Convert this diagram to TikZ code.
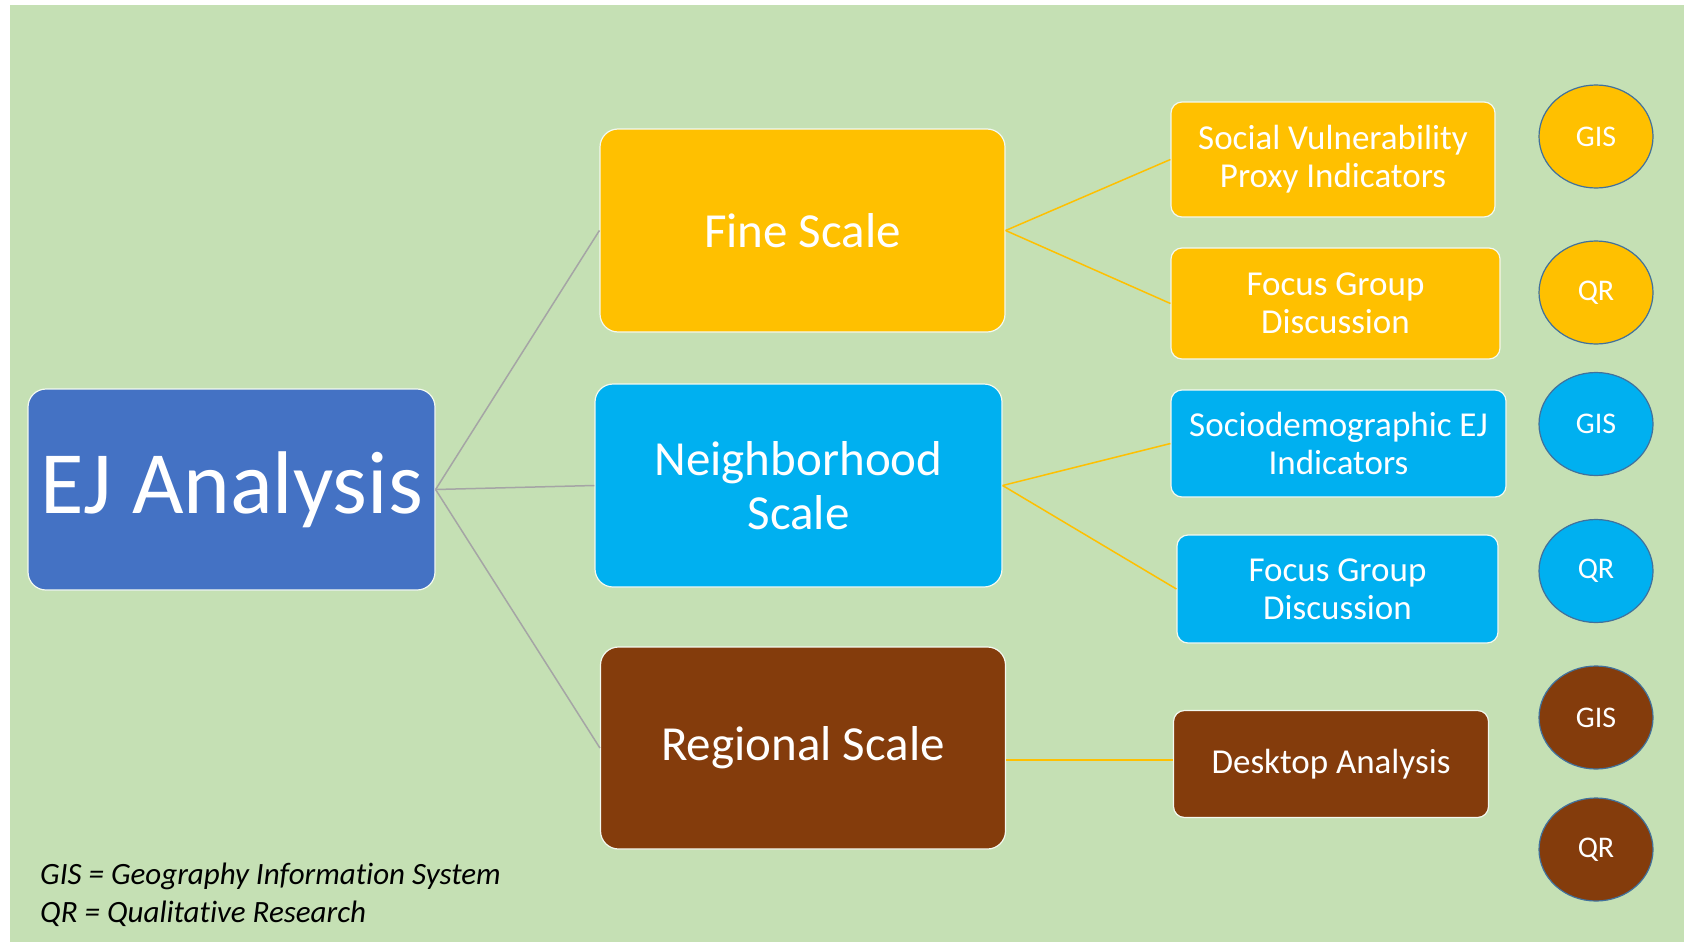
\documentclass[tikz,border=0pt]{standalone}
\usepackage{fontspec}
\setmainfont{Carlito}[Ligatures=NoCommon]
\usetikzlibrary{shapes.geometric,calc}
\definecolor{bg}{HTML}{C5E0B4}
\definecolor{ejblue}{HTML}{4472C4}
\definecolor{gold}{HTML}{FFC000}
\definecolor{sky}{HTML}{00B0F0}
\definecolor{brownc}{HTML}{843C0C}
\definecolor{circline}{HTML}{41719C}
\definecolor{linegray}{HTML}{A5A5A5}
\tikzset{
  box/.style={rectangle, rounded corners=18pt, draw=white!80!bg, line width=1.2pt,
    text=white, align=center, inner sep=0pt},
  bigbox/.style={box, font=\fontsize{49}{54}\selectfont},
  subbox/.style={box, rounded corners=11pt, font=\fontsize{35}{38}\selectfont},
  tag/.style={ellipse, draw=circline, line width=1.2pt, text=white,
    minimum width=114pt, minimum height=103pt, inner sep=0pt,
    font=\fontsize{30}{34}\selectfont},
  grayline/.style={draw=linegray, line width=1.5pt},
  goldline/.style={draw=gold, line width=1.5pt},
}
\begin{document}
\begin{tikzpicture}[x=1pt,y=-1pt]
\useasboundingbox (0,0) rectangle (1688,942);
\fill[white] (0,0) rectangle (1688,942);
\fill[bg] (10,5) rectangle (1684,942);

\node[box, fill=ejblue, minimum width=407pt, minimum height=201pt,
  font=\fontsize{89}{96}\selectfont] (ej) at (231.5,489.5) {EJ Analysis};

\node[bigbox, fill=gold, minimum width=405pt, minimum height=203pt] (fine) at (802.5,230.5) {Fine Scale};
\node[bigbox, fill=sky, minimum width=407pt, minimum height=203pt] (nbh) at (798.5,485.5) {Neighborhood\\Scale};
\node[bigbox, fill=brownc, minimum width=405pt, minimum height=202pt] (reg) at (803,748) {Regional Scale};

\node[subbox, fill=gold, minimum width=324pt, minimum height=115pt] (svpi) at (1333,159.5) {Social Vulnerability\\Proxy Indicators};
\node[subbox, fill=gold, minimum width=329pt, minimum height=111pt] (fgy) at (1335.5,303.5) {Focus Group\\Discussion};
\node[subbox, fill=sky, minimum width=335pt, minimum height=107pt] (socio) at (1338.5,443.5) {Sociodemographic EJ\\Indicators};
\node[subbox, fill=sky, minimum width=321pt, minimum height=108pt] (fgb) at (1337.5,589) {Focus Group\\Discussion};
\node[subbox, fill=brownc, minimum width=315pt, minimum height=107pt] (desk) at (1331,764) {Desktop Analysis};

\node[tag, fill=gold] (c1) at (1596,136.5) {GIS};
\node[tag, fill=gold] (c2) at (1596,292.5) {QR};
\node[tag, fill=sky] (c3) at (1596,424) {GIS};
\node[tag, fill=sky] (c4) at (1596,571) {QR};
\node[tag, fill=brownc] (c5) at (1596,717.5) {GIS};
\node[tag, fill=brownc] (c6) at (1596,849.5) {QR};

\draw[grayline] (ej.east) -- (fine.west);
\draw[grayline] (ej.east) -- (nbh.west);
\draw[grayline] (ej.east) -- (reg.west);
\draw[goldline] (fine.east) -- (svpi.west);
\draw[goldline] (fine.east) -- (fgy.west);
\draw[goldline] (nbh.east) -- (socio.west);
\draw[goldline] (nbh.east) -- (fgb.west);
\draw[goldline] ($(desk.west -| reg.east)+(0,-4)$) -- ($(desk.west)+(0,-4)$);

\node[anchor=west, align=left, inner sep=0pt, text=black,
  font=\fontsize{31}{38}\selectfont\itshape] (legend) at (40,895)
  {GIS = Geography Information System\\QR = Qualitative Research};
\end{tikzpicture}
\end{document}
